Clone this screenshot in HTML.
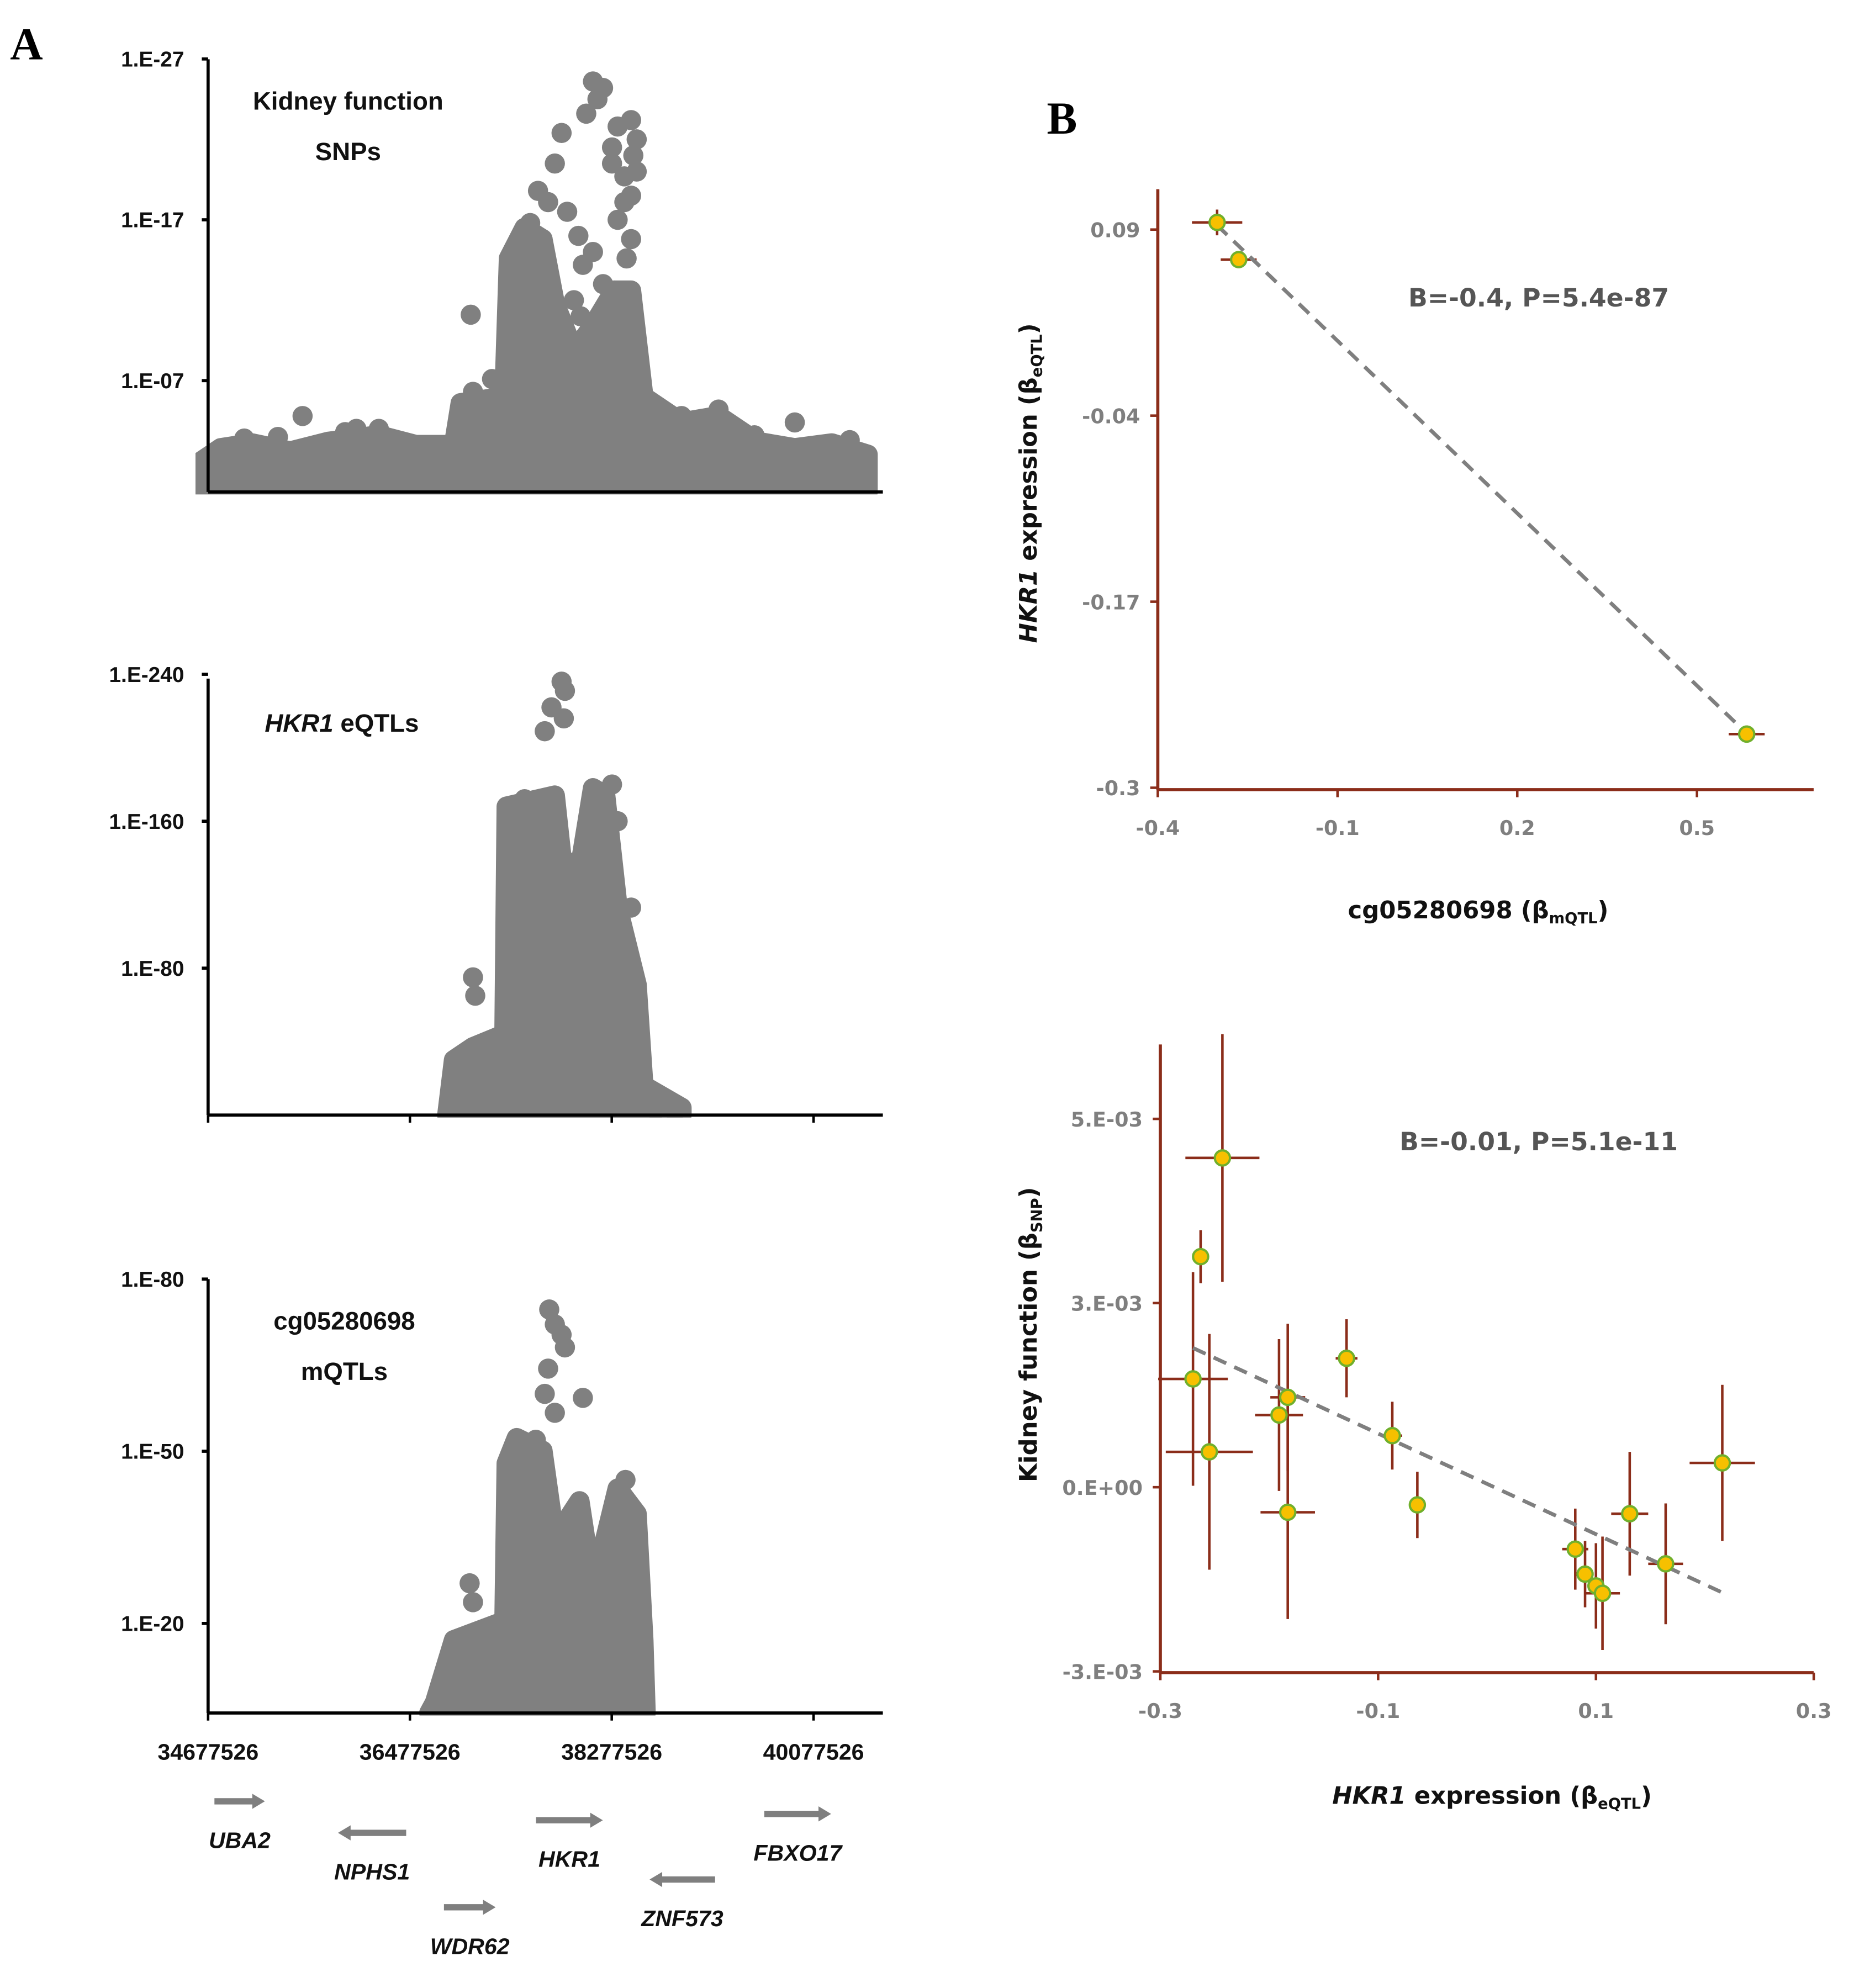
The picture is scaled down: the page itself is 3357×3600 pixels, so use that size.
<!DOCTYPE html>
<html><head><meta charset="utf-8"><style>
html,body{margin:0;padding:0;background:#fff}
svg{display:block}
.ta{font-family:"Liberation Sans Narrow","Liberation Sans",sans-serif;font-weight:bold;fill:#111}
.tb{font-family:"DejaVu Sans","Liberation Sans",sans-serif;font-weight:bold}
</style></head><body>
<svg id="fig" width="3357" height="3600" viewBox="0 0 1470 1576" preserveAspectRatio="none" xmlns="http://www.w3.org/2000/svg">
<text x="8" y="47" font-family="Liberation Serif" font-weight="bold" font-size="36">A</text>
<text x="830" y="106" font-family="Liberation Serif" font-weight="bold" font-size="36">B</text>
<g id="gA"></g><g id="gB"></g>
</svg>
<script>
// ---------- Panel A data (position Mb, -log10 p) ----------
const xTickPos=[34.6775,36.4775,38.2775,40.0775];
const xTickLabels=["34677526","36477526","38277526","40077526"];
const snpEnvelope=[[34.62,0],[34.62,2.0],[34.79,2.8],[35.07,3.1],[35.41,2.6],[35.75,3.2],[36.20,3.6],[36.53,3.0],[36.87,3.0],[36.93,5.6],[37.32,6.0],[37.36,14.6],[37.50,16.5],[37.66,15.8],[37.77,11.8],[37.94,8.8],[38.11,10.4],[38.30,12.6],[38.45,12.6],[38.56,6.0],[38.90,4.4],[39.23,4.8],[39.57,3.2],[39.91,2.8],[40.24,3.1],[40.56,2.4],[40.56,0]];
const snpDots=[[38.11,25.6],[38.20,25.2],[38.05,23.6],[38.33,22.8],[38.45,23.2],[38.50,22.0],[37.83,22.4],[37.77,20.5],[38.28,20.5],[38.39,19.7],[37.71,18.1],[38.39,18.1],[37.66,15.8],[38.45,15.8],[37.68,13.8],[38.02,14.2],[38.11,15.0],[38.41,14.6],[38.30,12.6],[37.02,11.1],[38.11,10.4],[38.22,8.8],[37.04,6.3],[38.09,5.6],[35.52,4.8],[36.20,4.0],[38.90,4.8],[39.23,5.2],[39.91,4.4],[34.79,2.4],[37.21,7.1],[37.94,7.1],[37.94,12.0],[38.00,11.0],[38.33,17.0],[38.50,20.0],[38.45,18.5],[38.28,21.5],[37.88,17.5],[37.98,16.0],[38.20,13.0],[38.36,11.5],[37.62,18.8],[37.55,16.8],[38.15,24.5],[38.47,21.0],[35.90,3.8],[36.00,4.0],[38.70,4.2],[39.55,3.6],[40.40,3.3],[35.00,3.4],[35.30,3.5]];
const snpTicks=[27,17,7];const snpTickLabels=["1.E-27","1.E-17","1.E-07"];
const eqtlEnvelope=[[36.81,0],[36.87,30],[37.04,37],[37.32,44],[37.34,168],[37.77,174],[37.83,140],[37.99,133],[38.11,178],[38.22,174],[38.33,113],[38.50,71],[38.56,16],[38.90,4],[38.90,0]];
const eqtlDots=[[37.83,236],[37.86,231],[37.74,222],[37.68,209],[37.85,216],[37.04,75],[37.06,65],[38.22,126],[38.45,113],[38.05,113],[37.43,126],[38.67,3],[38.84,2],[37.50,172],[37.60,170],[38.28,180],[38.33,160]];
const eqtlTicks=[240,160,80];const eqtlTickLabels=["1.E-240","1.E-160","1.E-80"];
const mqtlEnvelope=[[36.65,4.4],[36.70,6.2],[36.87,17.1],[37.32,20.4],[37.34,47.9],[37.43,52.3],[37.66,50.1],[37.77,34.7],[37.99,41.3],[38.11,25.9],[38.33,43.5],[38.50,39.1],[38.56,17.1],[38.58,4.4]];
const mqtlDots=[[37.72,74.7],[37.77,72.1],[37.83,70.3],[37.86,68.1],[37.71,64.4],[37.68,60.0],[37.77,56.7],[38.02,59.3],[37.01,27.0],[37.04,23.7],[36.70,6.2],[37.99,23.7],[37.40,50.0],[37.60,52.0],[38.40,45.0]];
const mqtlTicks=[80,50,20];const mqtlTickLabels=["1.E-80","1.E-50","1.E-20"];
const geneNames=["UBA2","NPHS1","WDR62","HKR1","ZNF573","FBXO17"];
const geneStart=[34.734,36.444,36.781,37.602,39.199,39.638];
const geneEnd=[35.184,35.836,37.242,38.198,38.615,40.234];
const geneRow=[0,1.506,5.06,0.904,3.735,0.602];

const NS="http://www.w3.org/2000/svg";
function mk(tag,attrs,parent){const e=document.createElementNS(NS,tag);for(const k in attrs)e.setAttribute(k,attrs[k]);parent.appendChild(e);return e;}
const gA=document.getElementById('gA');
const xA=v=>165+(v-34.6775)*88.9;
function panelA(name,env,dots,ticks,labels,y0,pxPer,top,base,title,showXTicks){
  const g=mk('g',{},gA);
  
  
  const yS=v=>y0-v*pxPer;
  const clip=mk('clipPath',{id:'c'+name},g);
  mk('rect',{x:155,y:top-10,width:545,height:base-top+12},clip);
  const dg=mk('g',{'clip-path':'url(#c'+name+')'},g);
  const pts=env.map(p=>xA(p[0])+','+Math.min(base,yS(p[1]))).join(' ');
  const poly=mk('polygon',{points:pts+' '+xA(env[env.length-1][0])+','+base+' '+xA(env[0][0])+','+base,fill:'#808080',stroke:'#808080','stroke-width':16,'stroke-linejoin':'round'},dg);
  
  
  dots.forEach(d=>{const c=mk('circle',{cx:xA(d[0]),cy:yS(d[1]),r:8,fill:'#808080'},dg);
    
    });
  mk('line',{x1:165,y1:top,x2:165,y2:base,stroke:'#000','stroke-width':2.5},g);
  mk('line',{x1:165,y1:base,x2:700,y2:base,stroke:'#000','stroke-width':2.5},g);
  ticks.forEach((t,i)=>{const y=yS(t);mk('line',{x1:160,y1:y,x2:165,y2:y,stroke:'#000','stroke-width':2.5},g);
    const tx=mk('text',{x:146,y:y+6,'text-anchor':'end','font-size':17,class:'ta'},g);tx.textContent=labels[i];
    
    });
  if(showXTicks)xTickPos.forEach(p=>mk('line',{x1:xA(p),y1:base,x2:xA(p),y2:base+6,stroke:'#000','stroke-width':2},g));
  title.forEach(t=>{const tx=mk('text',{x:t[1],y:t[2],'text-anchor':'middle','font-size':20,class:'ta'},g);tx.innerHTML=t[0];
    
    });
}
panelA('kidney-snp-plot',snpEnvelope,snpDots,snpTicks,snpTickLabels,391,12.75,47,390,[["Kidney function",276,87],["SNPs",276,127]],false);
panelA('hkr1-eqtl-plot',eqtlEnvelope,eqtlDots,eqtlTicks,eqtlTickLabels,884,1.456,538,884,[['<tspan font-style="italic">HKR1</tspan> eQTLs',271,580]],true);
panelA('mqtl-plot',mqtlEnvelope,mqtlDots,mqtlTicks,mqtlTickLabels,1378,4.55,1014,1358,[["cg05280698",273,1054],["mQTLs",273,1094]],true);
xTickPos.forEach((p,i)=>{const t=mk('text',{x:xA(p),y:1395,'text-anchor':'middle','font-size':18,class:'ta'},gA);t.textContent=xTickLabels[i];
  
  });
geneNames.forEach((n,i)=>{const y=1428+geneRow[i]*16.6;const x1=xA(geneStart[i]),x2=xA(geneEnd[i]);const d=x2>x1?1:-1;
  const g=mk('g',{},gA);
  
  
  mk('line',{x1:x1,y1:y,x2:x2-d*9,y2:y,stroke:'#7f7f7f','stroke-width':5},g);
  mk('polygon',{points:`${x2},${y} ${x2-d*10},${y-6} ${x2-d*10},${y+6}`,fill:'#7f7f7f'},g);
  const t=mk('text',{x:(x1+x2)/2,y:y+37,'text-anchor':'middle','font-size':18,'font-style':'italic',class:'ta'},g);t.textContent=n;});

// ---------- Panel B data ----------
const b1X=[-0.301,-0.265,0.583];
const b1Y=[0.095,0.069,-0.2625];
const b1XErr=[0.042,0.030,0.030];
const b1YErr=[0.009,0.006,0.006];
const b1XTicks=[-0.4,-0.1,0.2,0.5];const b1XTickLabels=["-0.4","-0.1","0.2","0.5"];
const b1YTicks=[0.09,-0.04,-0.17,-0.3];const b1YTickLabels=["0.09","-0.04","-0.17","-0.3"];
const b1Fit=[[-0.301,0.093],[0.583,-0.262]];
const b2X=[-0.270,-0.263,-0.255,-0.243,-0.191,-0.183,-0.183,-0.129,-0.087,-0.064,0.081,0.090,0.100,0.106,0.131,0.164,0.216];
const b2Y=[1.47e-3,3.13e-3,0.48e-3,4.47e-3,0.98e-3,1.22e-3,-0.34e-3,1.75e-3,0.70e-3,-0.24e-3,-0.84e-3,-1.18e-3,-1.34e-3,-1.44e-3,-0.36e-3,-1.04e-3,0.33e-3];
const b2XErr=[0.032,0.005,0.040,0.034,0.022,0.016,0.025,0.010,0.009,0.004,0.012,0.006,0.005,0.016,0.017,0.016,0.030];
const b2YErr=[1.45e-3,0.36e-3,1.6e-3,1.68e-3,1.03e-3,1.0e-3,1.45e-3,0.53e-3,0.46e-3,0.45e-3,0.55e-3,0.45e-3,0.58e-3,0.77e-3,0.84e-3,0.82e-3,1.06e-3];
const b2XTicks=[-0.3,-0.1,0.1,0.3];const b2XTickLabels=["-0.3","-0.1","0.1","0.3"];
const b2YTicks=[5e-3,2.5e-3,0,-2.5e-3];const b2YTickLabels=["5.E-03","3.E-03","0.E+00","-3.E-03"];
const b2Fit=[[-0.270,1.89e-3],[0.216,-1.43e-3]];

const gB=document.getElementById('gB');const AX='#8b2d1a';
function panelB(name,X,Y,XE,YE,xt,xtl,yt,ytl,fit,xS,yS,box,eq,ylab,xlab){
  const g=mk('g',{},gB);
  
  
  mk('line',{x1:box[0],y1:box[1],x2:box[0],y2:box[3],stroke:AX,'stroke-width':2.5},g);
  mk('line',{x1:box[0],y1:box[3],x2:box[2],y2:box[3],stroke:AX,'stroke-width':2.5},g);
  yt.forEach((v,i)=>{const y=yS(v);mk('line',{x1:box[0]-6,y1:y,x2:box[0],y2:y,stroke:AX,'stroke-width':2},g);
    const t=mk('text',{x:box[0]-14,y:y+6,'text-anchor':'end','font-size':16,fill:'#7f7f7f',class:'tb'},g);t.textContent=ytl[i];
    
    });
  xt.forEach((v,i)=>{const x=xS(v);mk('line',{x1:x,y1:box[3],x2:x,y2:box[3]+6,stroke:AX,'stroke-width':2},g);
    const t=mk('text',{x:x,y:box[3]+36,'text-anchor':'middle','font-size':16,fill:'#7f7f7f',class:'tb'},g);t.textContent=xtl[i];
    
    });
  X.forEach((x,i)=>{const cx=xS(x),cy=yS(Y[i]);
    mk('line',{x1:xS(x-XE[i]),y1:cy,x2:xS(x+XE[i]),y2:cy,stroke:AX,'stroke-width':2},g);
    mk('line',{x1:cx,y1:yS(Y[i]-YE[i]),x2:cx,y2:yS(Y[i]+YE[i]),stroke:AX,'stroke-width':2},g);});
  const fl=mk('line',{x1:xS(fit[0][0]),y1:yS(fit[0][1]),x2:xS(fit[1][0]),y2:yS(fit[1][1]),stroke:'#7f7f7f','stroke-width':3,'stroke-dasharray':'11 7'},g);
  
  
  X.forEach((x,i)=>{const c=mk('circle',{cx:xS(x),cy:yS(Y[i]),r:6,fill:'#f7c000',stroke:'#70b02c','stroke-width':1.8},g);
    
    });
  const e=mk('text',{x:eq[1],y:eq[2],'text-anchor':'middle','font-size':20,fill:'#555',class:'tb'},g);e.textContent=eq[0];
  
  
  const yl=mk('text',{transform:`translate(${ylab[1]},${ylab[2]}) rotate(-90)`,'text-anchor':'middle','font-size':19,fill:'#111',class:'tb'},g);yl.innerHTML=ylab[0];
  
  
  const xl=mk('text',{x:xlab[1],y:xlab[2],'text-anchor':'middle','font-size':19,fill:'#111',class:'tb'},g);xl.innerHTML=xlab[0];
  
  
}
panelB('mqtl-vs-eqtl-scatter',b1X,b1Y,b1XErr,b1YErr,b1XTicks,b1XTickLabels,b1YTicks,b1YTickLabels,b1Fit,
  v=>918+(v+0.4)/0.3*142.5, v=>182+(0.09-v)/0.13*147.5,[918,150,1438,626],
  ["B=-0.4, P=5.4e-87",1220,243],
  ['<tspan font-style="italic">HKR1</tspan> expression (β<tspan font-size="12" dy="4">eQTL</tspan><tspan dy="-4">)</tspan>',822,383],
  ['cg05280698 (β<tspan font-size="12" dy="4">mQTL</tspan><tspan dy="-4">)</tspan>',1172,728]);
panelB('eqtl-vs-kidney-scatter',b2X,b2Y,b2XErr,b2YErr,b2XTicks,b2XTickLabels,b2YTicks,b2YTickLabels,b2Fit,
  v=>920+(v+0.3)*863.5, v=>1179-v*58400,[920,828,1438,1326],
  ["B=-0.01, P=5.1e-11",1220,912],
  ['Kidney function (β<tspan font-size="12" dy="4">SNP</tspan><tspan dy="-4">)</tspan>',822,1058],
  ['<tspan font-style="italic">HKR1</tspan> expression (β<tspan font-size="12" dy="4">eQTL</tspan><tspan dy="-4">)</tspan>',1183,1430]);
</script>
</body></html>
